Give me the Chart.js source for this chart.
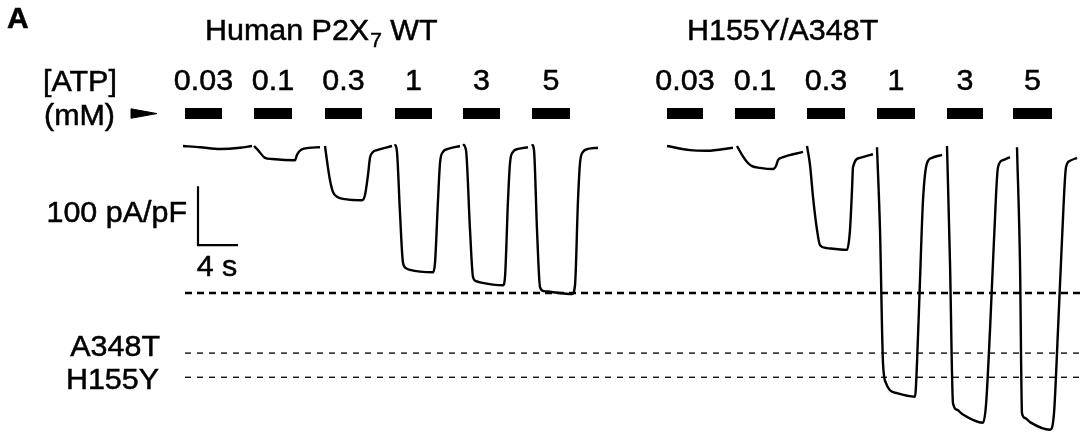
<!DOCTYPE html>
<html>
<head>
<meta charset="utf-8">
<script src="https://cdn.jsdelivr.net/npm/chart.js@4/dist/chart.umd.min.js"></script>
<style>
  body { margin: 0; background: #fff; }
  #wrap { width: 1088px; height: 441px; position: relative; }
</style>
</head>
<body>
<div id="wrap"><canvas id="traceChart"></canvas></div>
<script>
// time in s, current density in pA/pF (inward = negative)
const concLabels = ["0.03", "0.1", "0.3", "1", "3", "5"];

// ATP application bars (start / end, s)
const wtBarStart = [0.0, 6.9, 14.0, 21.0, 27.8, 34.7];
const wtBarEnd = [3.7, 10.7, 17.7, 24.7, 31.5, 38.5];
const mutBarStart = [48.2, 55.0, 62.2, 69.2, 76.2, 82.8];
const mutBarEnd = [51.8, 59.0, 66.0, 73.0, 79.8, 86.7];

// wild type sweeps
const wtTimes = [
  [-0.2, 1.5, 3.5, 5.5, 6.7],
  [6.9, 7.3, 8.0, 8.7, 11.0, 11.2, 11.8, 13.5],
  [14.0, 14.2, 14.5, 14.8, 15.2, 16.0, 17.7, 18.0, 18.3, 18.5, 18.8, 19.2, 20.7],
  [21.0, 21.2, 21.5, 21.8, 22.1, 22.5, 24.8, 25.0, 25.3, 25.5, 25.8, 26.3, 27.5],
  [27.8, 28.1, 28.5, 28.8, 29.1, 29.5, 31.8, 32.0, 32.3, 32.5, 32.8, 33.3, 34.3],
  [34.7, 34.9, 35.2, 35.5, 35.9, 36.5, 38.7, 39.0, 39.3, 39.5, 39.8, 40.3, 41.3]
];
const wtCurrents = [
  [0, -2, -5, -3, 0],
  [0, -7, -20, -22, -24, -15, -5, -2],
  [0, -25, -58, -78, -86, -90, -92, -83, -49, -20, -10, -7, 0],
  [3, -10, -114, -198, -207, -210, -214, -198, -92, -29, -10, -5, 0],
  [3, -7, -142, -222, -229, -231, -236, -222, -92, -29, -10, -5, -2],
  [3, -7, -142, -239, -246, -247, -251, -236, -92, -29, -10, -5, -3]
];

// H155Y/A348T sweeps
const mutTimes = [
  [48.2, 50.5, 52.2, 54.8],
  [55.2, 55.7, 56.2, 56.7, 57.5, 58.8, 59.1, 59.3, 59.8, 61.8],
  [62.2, 62.5, 62.8, 63.2, 63.5, 64.2, 66.2, 66.5, 66.7, 66.8, 67.5, 68.8],
  [69.2, 69.5, 69.8, 70.1, 70.5, 71.2, 73.0, 73.2, 73.5, 73.8, 74.2, 74.7, 75.7],
  [76.2, 76.5, 76.8, 77.2, 77.7, 79.8, 80.1, 80.5, 80.9, 81.3, 81.8, 82.5],
  [83.2, 83.5, 83.7, 84.0, 84.5, 86.5, 86.9, 87.3, 87.7, 88.1, 88.5, 89.2]
];
const mutCurrents = [
  [0, -7, -8, -3],
  [0, -15, -27, -34, -37, -39, -34, -24, -19, -10],
  [0, -32, -86, -142, -168, -173, -176, -142, -75, -36, -20, -14],
  [-2, -142, -368, -402, -414, -419, -425, -368, -227, -92, -29, -20, -15],
  [0, -198, -436, -447, -454, -469, -439, -312, -159, -36, -24, -19],
  [-2, -198, -453, -461, -468, -481, -453, -312, -159, -36, -25, -20]
];

// reference levels (pA/pF)
const wtMaxLevel = -249;
const a348tLevel = -351;
const h155yLevel = -392;

// layout helpers in data units
const barLevel = 55;
const concLabelLevel = 108;
const titleLevel = 193;
const X_MIN = -18.5, X_MAX = 90.3, Y_MIN = -500, Y_MAX = 247.5;

function sweepPoints(times, currents) {
  const pts = [];
  times.forEach((ts, k) => {
    ts.forEach((t, j) => pts.push({ x: t, y: currents[k][j] }));
    pts.push({ x: ts[ts.length - 1] + 0.05, y: null });
  });
  return pts;
}

function barPoints(starts, ends) {
  const pts = [];
  starts.forEach((s, k) => {
    pts.push({ x: s, y: barLevel }, { x: ends[k], y: barLevel }, { x: ends[k] + 0.05, y: null });
  });
  return pts;
}

function hLine(y, from, to) {
  return [{ x: from, y: y }, { x: to, y: y }];
}

const traceStyle = {
  borderColor: "#000",
  borderWidth: 2.4,
  pointRadius: 0,
  cubicInterpolationMode: "monotone",
  spanGaps: false,
  fill: false
};

const FONT = "29px 'Liberation Sans', Arial, sans-serif";
const STRETCH = 1.05;

// text drawn in data coordinates
const textPlugin = {
  id: "figText",
  afterDatasetsDraw(chart) {
    const ctx = chart.ctx;
    const xs = chart.scales.x, ys = chart.scales.y;
    const draw = (str) => {
      ctx.fillText(str, 0, 0);
      ctx.strokeText(str, 0, 0);
    };
    const put = (str, x, y, align, font, stretch) => {
      ctx.save();
      ctx.font = font || FONT;
      ctx.fillStyle = "#000";
      ctx.strokeStyle = "#000";
      ctx.lineWidth = 0.5;
      ctx.textBaseline = "middle";
      ctx.textAlign = align;
      ctx.translate(xs.getPixelForValue(x), ys.getPixelForValue(y));
      ctx.scale(stretch || STRETCH, 1);
      draw(str);
      ctx.restore();
    };

    put("A", -17.8, 214, "left", "bold 30px 'Liberation Sans', Arial, sans-serif", 1);

    // title with subscript 7
    ctx.save();
    ctx.fillStyle = "#000";
    ctx.strokeStyle = "#000";
    ctx.lineWidth = 0.5;
    ctx.textBaseline = "middle";
    ctx.textAlign = "left";
    let px = xs.getPixelForValue(2.0);
    const py = ys.getPixelForValue(titleLevel);
    const part1 = "Human P2X";
    ctx.font = FONT;
    ctx.setTransform(STRETCH, 0, 0, 1, px, py);
    draw(part1);
    px += ctx.measureText(part1).width * STRETCH;
    ctx.font = "20px 'Liberation Sans', Arial, sans-serif";
    ctx.setTransform(STRETCH, 0, 0, 1, px + 1, py + 9);
    draw("7");
    px += ctx.measureText("7").width * STRETCH + 1;
    ctx.font = FONT;
    ctx.setTransform(STRETCH, 0, 0, 1, px, py);
    draw(" WT");
    ctx.restore();

    put("H155Y/A348T", 50.2, titleLevel, "left");

    put("[ATP]", -14.2, 107, "left");
    put("(mM)", -14.1, 50, "left");

    concLabels.forEach((lab, k) => {
      put(lab, (wtBarStart[k] + wtBarEnd[k]) / 2, concLabelLevel, "center");
      put(lab, (mutBarStart[k] + mutBarEnd[k]) / 2, concLabelLevel, "center");
    });

    put("100 pA/pF", 0.2, -115, "right");
    put("4 s", 3.2, -206, "center");
    put("A348T", -2.5, -342, "right");
    put("H155Y", -2.6, -398, "right");
  }
};

const ctx = document.getElementById("traceChart").getContext("2d");

new Chart(ctx, {
  type: "line",
  data: {
    datasets: [
      Object.assign({ label: "WT", data: sweepPoints(wtTimes, wtCurrents) }, traceStyle),
      Object.assign({ label: "H155Y/A348T", data: sweepPoints(mutTimes, mutCurrents) }, traceStyle),
      {
        label: "ATP bars",
        data: barPoints(wtBarStart.concat(mutBarStart), wtBarEnd.concat(mutBarEnd)),
        borderColor: "#000",
        borderWidth: 11,
        borderCapStyle: "butt",
        pointRadius: 0,
        spanGaps: false,
        tension: 0
      },
      {
        label: "arrow",
        data: [{ x: -5.4, y: 63 }, { x: -2.8, y: 55 }, { x: -5.4, y: 47 }, { x: -5.4, y: 63 }],
        borderColor: "#000",
        backgroundColor: "#000",
        borderWidth: 1,
        pointRadius: 0,
        fill: "shape",
        tension: 0
      },
      {
        label: "scale bar",
        data: [{ x: 1.3, y: -68 }, { x: 1.3, y: -168 }, { x: 5.3, y: -168 }],
        borderColor: "#000",
        borderWidth: 2.2,
        pointRadius: 0,
        tension: 0
      },
      {
        label: "WT max",
        data: hLine(wtMaxLevel, 0, 89.7),
        borderColor: "#000",
        borderWidth: 2.5,
        borderDash: [7, 5],
        pointRadius: 0
      },
      {
        label: "A348T",
        data: hLine(a348tLevel, 0, 89.5),
        borderColor: "#111",
        borderWidth: 1.4,
        borderDash: [6, 6],
        pointRadius: 0
      },
      {
        label: "H155Y",
        data: hLine(h155yLevel, 0, 89.5),
        borderColor: "#111",
        borderWidth: 1.4,
        borderDash: [6, 6],
        pointRadius: 0
      }
    ]
  },
  options: {
    responsive: true,
    maintainAspectRatio: false,
    animation: false,
    layout: { padding: 0 },
    plugins: {
      legend: { display: false },
      tooltip: { enabled: false }
    },
    scales: {
      x: { type: "linear", min: X_MIN, max: X_MAX, display: false },
      y: { type: "linear", min: Y_MIN, max: Y_MAX, display: false }
    }
  },
  plugins: [textPlugin]
});
</script>
</body>
</html>
